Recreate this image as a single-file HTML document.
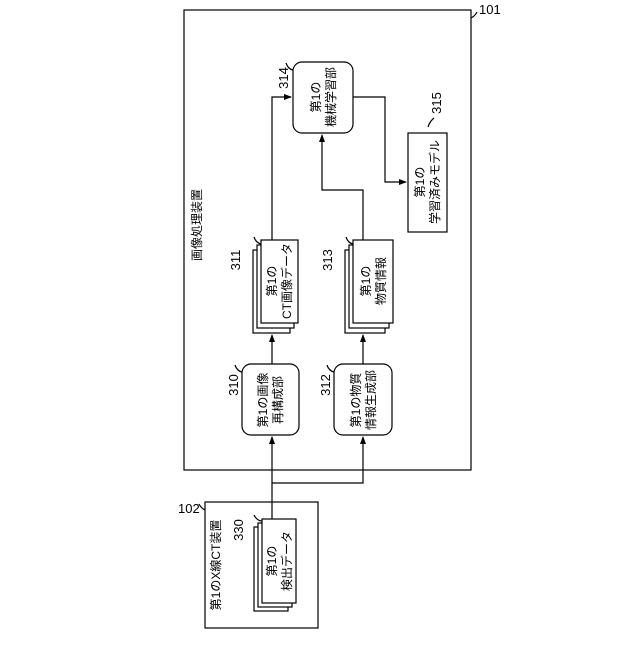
<!DOCTYPE html>
<html><head><meta charset="utf-8"><style>body{margin:0;background:#fff}</style></head><body>
<svg width="640" height="640" viewBox="0 0 640 640" xmlns="http://www.w3.org/2000/svg" font-family="Liberation Sans, Noto Sans CJK JP, sans-serif" font-size="12" fill="#000">
<defs><marker id="a" markerWidth="8" markerHeight="8" refX="7" refY="4" orient="auto" markerUnits="userSpaceOnUse"><path d="M0,1 L8,4 L0,7 z" fill="#000"/></marker></defs>
<g fill="none" stroke="#000" stroke-width="1.2">
<rect x="184" y="10" width="287" height="460"/>
<rect x="205" y="502" width="113" height="126"/>
<!-- 330 -->
<rect x="254" y="527" width="34" height="84" fill="#fff"/>
<rect x="258" y="523" width="34" height="84" fill="#fff"/>
<rect x="262" y="519" width="34" height="84" fill="#fff"/>
<!-- 311 -->
<rect x="253" y="250" width="37" height="83" fill="#fff"/>
<rect x="257" y="245" width="37" height="83" fill="#fff"/>
<rect x="261" y="240" width="37" height="83" fill="#fff"/>
<!-- 313 -->
<rect x="345" y="250" width="40" height="83" fill="#fff"/>
<rect x="349" y="245" width="40" height="83" fill="#fff"/>
<rect x="353" y="240" width="40" height="83" fill="#fff"/>
<rect x="242" y="364" width="57" height="71" rx="9"/>
<rect x="334" y="364" width="58" height="71" rx="9"/>
<rect x="293" y="62" width="60" height="71" rx="9"/>
<rect x="408" y="133" width="39" height="99"/>
<path d="M272,519 V483 H363 V437" marker-end="url(#a)"/>
<path d="M272,483 V437" marker-end="url(#a)"/>
<path d="M272,364 V335" marker-end="url(#a)"/>
<path d="M363,364 V335" marker-end="url(#a)"/>
<path d="M272,240 V97 H291" marker-end="url(#a)"/>
<path d="M363,240 V190 H322 V135" marker-end="url(#a)"/>
<path d="M353,97 H385 V182 H406" marker-end="url(#a)"/>
<path d="M471,18 q4,-2 6,-6"/>
<path d="M205,510 q-4,-2 -6,-6"/>
<path d="M262,521 q-5,0 -8,-6"/>
<path d="M261,244 q-5,-1 -7,-7"/>
<path d="M353,244 q-5,-1 -7,-7"/>
<path d="M242,372 q-5,-1 -7,-7"/>
<path d="M334,372 q-5,-1 -7,-7"/>
<path d="M293,70 q-5,-1 -7,-7"/>
<path d="M428,127 q2,-6 6,-9"/>
</g>
<g font-size="13">
<text x="479" y="14">101</text>
<text x="178" y="513">102</text>
<text transform="rotate(-90,243,530)" x="243" y="530" text-anchor="middle">330</text>
<text transform="rotate(-90,240,260)" x="240" y="260" text-anchor="middle">311</text>
<text transform="rotate(-90,332,260)" x="332" y="260" text-anchor="middle">313</text>
<text transform="rotate(-90,238,385)" x="238" y="385" text-anchor="middle">310</text>
<text transform="rotate(-90,330,385)" x="330" y="385" text-anchor="middle">312</text>
<text transform="rotate(-90,288,78)" x="288" y="78" text-anchor="middle">314</text>
<text transform="rotate(-90,441,103)" x="441" y="103" text-anchor="middle">315</text>
</g>
<g text-anchor="middle">
<text transform="rotate(-90,201,225)" x="201" y="225">画像処理装置</text>
<text transform="rotate(-90,220,565)" x="220" y="565">第1のX線CT装置</text>
<text transform="rotate(-90,279,561)" x="279" y="561"><tspan x="279" dy="-3">第1の</tspan><tspan x="279" dy="15">検出データ</tspan></text>
<text transform="rotate(-90,279,281)" x="279" y="281"><tspan x="279" dy="-3">第1の</tspan><tspan x="279" dy="15">CT画像データ</tspan></text>
<text transform="rotate(-90,373,281)" x="373" y="281"><tspan x="373" dy="-3">第1の</tspan><tspan x="373" dy="15">物質情報</tspan></text>
<text transform="rotate(-90,270,400)" x="270" y="400"><tspan x="270" dy="-3">第1の画像</tspan><tspan x="270" dy="15">再構成部</tspan></text>
<text transform="rotate(-90,363,400)" x="363" y="400"><tspan x="363" dy="-3">第1の物質</tspan><tspan x="363" dy="15">情報生成部</tspan></text>
<text transform="rotate(-90,323,97)" x="323" y="97"><tspan x="323" dy="-3">第1の</tspan><tspan x="323" dy="15">機械学習部</tspan></text>
<text transform="rotate(-90,427,182)" x="427" y="182"><tspan x="427" dy="-3">第1の</tspan><tspan x="427" dy="15">学習済みモデル</tspan></text>
</g>
</svg>
</body></html>
